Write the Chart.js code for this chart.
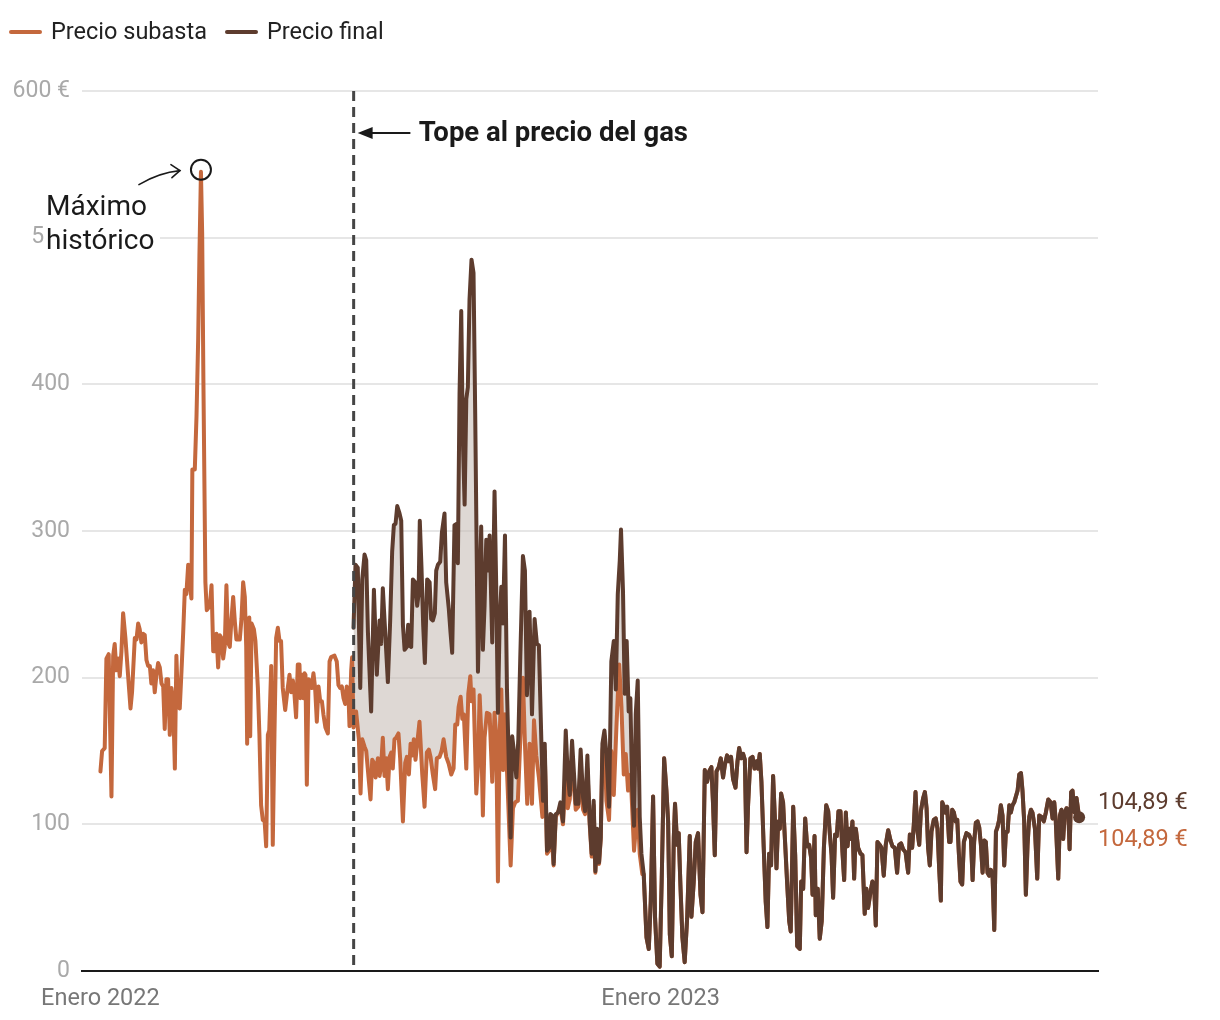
<!DOCTYPE html>
<html lang="es">
<head>
<meta charset="utf-8">
<title>Precio de la electricidad</title>
<script src="https://cdn.jsdelivr.net/npm/chart.js@4.4.1/dist/chart.umd.min.js"></script>
<style>
  html, body { margin: 0; padding: 0; background: #fff; }
  #wrap { width: 1220px; height: 1020px; }
</style>
</head>
<body>
<div id="wrap"><canvas id="grafico" width="1220" height="1020"></canvas></div>
<script>
// [día desde el 1 de enero de 2022, €/MWh]
const subastaAntes = [
  [0,136],[1.1,150],[2.8,152],[3.9,213],[5.4,216],[7.2,119],[8.3,215],[9.3,223],[10.4,205],[11.5,213],
  [12.6,201],[13.7,218],[14.8,244],[16.3,227],[18,202],[19.6,179],[20.6,190],[22.4,227],[23.5,226],[24.6,237],
  [25.6,233],[26.7,224],[27.8,230],[28.9,229],[30,212],[31.1,208],[32.2,208],[33.2,196],[34.3,205],[35.4,190],
  [36.5,202],[37.6,210],[38.7,207],[39.8,196],[40.9,194],[41.9,165],[43,199],[44.1,199],[45.2,161],[46.3,193],
  [47.4,183],[48.5,138],[49.5,215],[50.6,180],[51.7,179],[52.8,204],[53.9,230],[55,260],[56,257],[57.2,277],
  [58.2,265],[59.3,254],[59.9,342],[61.5,342],[62.6,378],[63.7,431],[64.5,487],[65.5,545],[66.3,503],[67.1,403],
  [68.4,265],[69.3,246],[71.3,249],[72.4,263],[73.5,218],[74.5,218],[75.6,230],[76.7,207],[77.8,229],[78.9,227],
  [80,213],[81,221],[82.1,263],[83.2,224],[84.3,221],[85.4,240],[86.5,255],[87.6,238],[88.6,226],[89.7,226],
  [90.8,226],[91.9,240],[93,265],[94.1,255],[95,221],[95.6,155],[97,241],[97.6,160],[98.5,237],[100,233],
  [101,225],[102.6,193],[103.6,161],[104.7,113],[105.8,103],[107,102],[108,85],[109.1,161],[110,164],[111.3,208],
  [112.3,86],[113.4,161],[114.5,227],[115.6,234],[116.7,225],[117.7,225],[118.8,193],[120.4,178],[121.7,190],[123.2,202],
  [124.3,190],[125.4,198],[126.4,189],[127.5,173],[128.6,209],[129.7,209],[130.3,186],[131.4,202],[132.3,186],[133,203],
  [133.6,202],[134.5,127],[135.6,199],[136.6,198],[137.7,193],[138.8,203],[139.9,193],[141,170],[142.1,194],[143.2,184],
  [144.3,184],[145.3,175],[146.6,166],[148.2,162],[149.3,211],[150.3,214],[152.5,215],[154,211],[155.1,195],[156.2,193],
  [157.3,194],[158.4,186],[159.5,182],[160.5,194],[161.6,189],[162.3,167],[163.4,205],[164,214]
];

const subastaTope = [
  [164.9,166],[166.6,177],[168.4,158],[169.5,121],[170.6,158],[172.1,153],[173.2,150],[174.7,132],[176,117],[177.1,144],
  [178.2,142],[179.3,132],[180.8,145],[181.9,133],[182.9,140],[184,159],[185.1,133],[186.2,145],[187.3,124],[188.4,146],
  [189.5,149],[190.5,138],[191.6,158],[192.7,159],[194.2,162],[195.3,145],[197.1,102],[198.6,142],[199.7,146],[201,134],
  [202.1,155],[203.2,147],[204.2,158],[205.3,144],[206.4,155],[207.9,170],[209.7,134],[211.2,112],[212.7,149],[214,151],
  [215.1,146],[216.6,134],[218.1,124],[219.2,145],[221,146],[222.3,150],[223.6,158],[225.3,146],[227,141],[228.6,134],
  [230.1,138],[231.2,168],[232.5,168],[233.4,180],[234.7,187],[235.8,172],[236.8,175],[238.4,138],[239.7,189],[241,201],
  [241.8,184],[243.1,192],[244.9,121],[246,140],[247.1,188],[248.1,163],[249.2,106],[250.3,159],[251.8,176],[253.6,175],
  [255.3,129],[256.8,176],[257.9,160],[259,61],[260.1,160],[261.2,192],[262.3,137],[263.6,175],[264.9,137],[267.3,72],
  [268.8,111],[270.3,115],[272,116],[273.6,158],[275.3,200],[276.6,155],[278.1,114],[279.6,155],[281.2,114],[282.5,171],
  [284,147],[285.7,132],[288,105],[289.5,150],[291,80],[292.3,82],[293.2,104],[295.3,72],[296.7,105],[299.7,112],
  [301.4,100],[303.2,134],[304.5,111],[305.8,117],[307.3,145],[308.6,125],[309.7,110],[311.4,112],[312.9,140],[314.5,110],
  [315.8,107],[317.3,138],[318.8,100],[320.1,78],[321.4,113],[322.5,67],[323.6,95],[324.9,73],[326,90],[327.1,150],
  [328.4,160],[329.7,116],[331.4,103],[332.9,150],[334.5,120],[336.2,166],[338,209],[339.5,180],[341,134],[342.3,148],
  [343.8,123],[345.5,134],[347.7,82],[349.2,102],[350.1,110],[351.4,80],[353.1,66]
];

const precioFinal = [
  [164.9,234],[166.2,277],[167.7,275],[169.3,193],[170.6,267],[172.1,284],[173.2,280],[174.3,231],[176.4,177],[178.2,260],
  [180.1,202],[181.9,239],[182.9,223],[184,261],[185.3,236],[187.3,197],[188.8,239],[190.1,286],[191.2,304],[192.3,305],
  [193.4,317],[194.9,312],[196,307],[197.1,236],[198.2,219],[199.7,221],[200.5,236],[201.4,222],[202.5,221],[203.6,267],
  [205.1,265],[206.4,249],[207.3,257],[208.1,307],[209.2,275],[210.3,236],[211.4,210],[212.9,267],[214.5,265],[215.5,240],
  [216.6,239],[217.9,244],[218.8,273],[219.9,277],[221.4,279],[222.5,299],[224.2,312],[225.3,265],[227,247],[228.1,231],
  [229.2,217],[230.7,304],[232.3,305],[232.9,278],[234,394],[235.1,450],[236.2,361],[237.3,318],[238.4,390],[239.4,398],
  [240.5,458],[241.8,485],[243.1,476],[244.2,380],[246,204],[248.1,303],[249.2,219],[250.3,249],[251.4,294],[252.5,273],
  [253.6,297],[255.3,224],[256.8,327],[257.9,262],[259,176],[260.1,236],[261.2,262],[262.3,237],[263.6,297],[264.9,192],
  [266.2,137],[267.3,91],[268.3,160],[269.4,150],[271,132],[272.3,158],[273.6,215],[275.3,283],[276.6,273],[277.9,188],
  [279.6,245],[281.2,175],[282.9,240],[284.4,223],[285.7,222],[287.3,157],[288.4,116],[289.5,155],[291,82],[292.3,84],
  [293.2,107],[294.3,106],[295.3,73],[296.7,107],[298.2,108],[299.7,115],[301.4,102],[303.2,164],[304.5,134],[305.8,120],
  [307.3,157],[308.6,134],[309.7,114],[311.4,114],[312.9,151],[314.5,118],[315.8,109],[317.3,147],[318.8,102],[320.1,80],
  [321.4,116],[322.5,68],[323.6,97],[324.9,74],[326,91],[327.1,155],[328.4,164],[329.7,148],[331.4,112],[332.9,211],
  [334.5,225],[335.8,192],[337.1,257],[338.4,280],[339.2,301],[340.5,259],[341.6,189],[342.9,225],[344.2,177],[345.3,186],
  [346.4,127],[347.7,99],[348.8,175],[350.1,198],[351.4,105],[352.5,80],[354,66],[355.8,23],[357.3,15],[358.6,48],
  [360.1,119],[361.4,36],[362.9,5],[364.4,3],[365.7,61],[367.3,145],[368.8,123],[369.9,102],[371,25],[372.3,10],
  [373.6,91],[374.4,114],[375.8,86],[376.8,94],[377.9,59],[379.2,23],[380.7,6],[382.3,36],[384,92],[385.1,37],
  [386.6,61],[387.9,88],[389.4,94],[391,52],[392.3,40],[393.8,137],[395.3,129],[396.6,136],[398.1,139],[399.2,113],
  [400.3,79],[401.4,136],[402.9,139],[404.2,145],[405.7,132],[406.8,140],[408.3,147],[409.6,143],[410.9,146],[412.2,131],
  [413.8,125],[415.1,143],[416.2,152],[417.5,145],[418.8,148],[419.9,144],[421,81],[422,113],[423.5,145],[424.9,146],
  [426.2,138],[427.5,143],[428.5,138],[429.6,148],[430.7,129],[432.2,84],[433.5,47],[434.6,30],[435.7,80],[437,72],
  [438.3,133],[439.4,106],[440.5,70],[441.6,102],[442.7,97],[443.5,121],[444.8,115],[446.1,88],[447.5,59],[448.8,34],
  [449.8,27],[451.4,112],[452.7,79],[454,17],[455.7,15],[456.6,61],[457.9,56],[459.2,104],[460.5,85],[461.8,86],
  [463.1,77],[464,52],[465.3,92],[466.1,38],[467.4,56],[468.7,22],[470,34],[471.4,84],[472.9,113],[474.2,109],
  [475.3,93],[476.4,79],[477.4,50],[478.7,93],[479.8,92],[480.9,109],[482.2,109],[483.5,81],[484.6,62],[485.7,108],
  [486.8,85],[487.9,97],[489,90],[490,102],[491.1,63],[492.2,97],[493.7,84],[495.3,80],[496.5,79],[498,39],
  [499.1,56],[500.2,43],[501.8,54],[503,61],[504.1,59],[505.2,31],[506.3,88],[507.8,86],[508.9,84],[510.4,65],
  [511.7,86],[513.3,96],[514.8,89],[516.1,85],[517.6,84],[519.1,67],[520.4,86],[521.7,87],[523,83],[524.6,81],
  [526.3,67],[527.4,93],[528.9,84],[530,100],[531.1,122],[532.2,97],[533.5,86],[534.6,109],[536.1,118],[537.2,122],
  [538.3,111],[539.3,84],[540.4,72],[541.5,95],[543,103],[544.3,104],[545.4,97],[546.5,70],[547.6,48],[548.5,115],
  [549.6,112],[550.6,108],[551.7,112],[553,88],[553.9,88],[555,110],[556.1,108],[557.2,102],[558.3,103],[559.3,81],
  [560.4,61],[561.5,59],[562.6,88],[564.3,94],[565.9,93],[567.2,90],[568.3,62],[569.3,88],[570.4,101],[571.5,102],
  [572.6,98],[573.7,86],[574.8,67],[575.9,89],[576.9,88],[578,67],[579.1,65],[580.2,69],[581.3,65],[582.4,28],
  [583.5,95],[584.5,98],[585.6,103],[586.7,113],[587.8,106],[588.9,72],[590,95],[591.1,95],[592.2,113],[593.2,108],
  [594.3,113],[595.4,115],[596.5,119],[597.6,123],[598.7,134],[599.8,135],[600.8,123],[601.9,102],[603,52],[604.1,86],
  [605.2,105],[606.3,110],[607.3,108],[608.9,97],[610.4,63],[611.7,106],[613.2,105],[614.7,102],[616,108],[617.6,117],
  [619.1,115],[620.4,104],[621.5,115],[622.5,102],[624.1,63],[625.2,106],[626.2,110],[627.3,90],[628.4,108],[629.5,111],
  [630.6,110],[631.5,83],[632.5,122],[633.4,123],[634.7,108],[636,118],[637.7,104.89]
];

const diaTope = 165;
const ticksX = [0, 365];
const etiquetasX = ['Enero 2022', 'Enero 2023'];
const ticksY = [0, 100, 200, 300, 400, 500, 600];

const colorSubasta = '#c4683d';
const colorFinal = '#5d3c2e';
const fuente = 'Roboto, "Noto Sans", sans-serif';

// desde que se igualan, la subasta sigue la misma curva que el precio final
const ultimoSubasta = subastaTope[subastaTope.length - 1][0];
const subasta = subastaAntes.concat(subastaTope, precioFinal.filter(p => p[0] > ultimoSubasta));

const aPuntos = arr => arr.map(p => ({ x: p[0], y: p[1] }));
const euros = v => v.toFixed(2).replace('.', ',') + ' €';

const extras = {
  id: 'extras',
  afterDatasetsDraw(chart) {
    const { ctx, scales: { x, y } } = chart;
    const px = x.getPixelForValue(diaTope);
    ctx.save();
    ctx.strokeStyle = '#454545';
    ctx.lineWidth = 3;
    ctx.setLineDash([10, 6]);
    ctx.beginPath();
    ctx.moveTo(px, y.getPixelForValue(600));
    ctx.lineTo(px, y.getPixelForValue(0));
    ctx.stroke();
    ctx.restore();
  },
  afterDraw(chart) {
    const { ctx, scales: { x, y } } = chart;
    ctx.save();

    // leyenda
    ctx.lineCap = 'round';
    ctx.lineWidth = 4;
    ctx.font = '23.5px ' + fuente;
    ctx.textBaseline = 'middle';
    ctx.fillStyle = '#222';
    [[colorSubasta, 'Precio subasta', 11], [colorFinal, 'Precio final', 227]].forEach(([c, t, x0]) => {
      ctx.strokeStyle = c;
      ctx.beginPath();
      ctx.moveTo(x0, 32);
      ctx.lineTo(x0 + 29, 32);
      ctx.stroke();
      ctx.fillText(t, x0 + 40, 33);
    });

    // tope al gas
    const px = x.getPixelForValue(diaTope);
    const ay = 133;
    ctx.strokeStyle = '#1a1a1a';
    ctx.fillStyle = '#1a1a1a';
    ctx.lineWidth = 2;
    ctx.beginPath();
    ctx.moveTo(px + 14, ay);
    ctx.lineTo(px + 56, ay);
    ctx.stroke();
    ctx.beginPath();
    ctx.moveTo(px + 4, ay);
    ctx.lineTo(px + 19, ay - 6);
    ctx.lineTo(px + 19, ay + 6);
    ctx.closePath();
    ctx.fill();
    ctx.font = 'bold 27.5px ' + fuente;
    ctx.fillText('Tope al precio del gas', px + 65, ay + 1);

    // máximo histórico
    const pico = subasta.reduce((a, b) => (b[1] > a[1] ? b : a));
    const cx = x.getPixelForValue(pico[0]);
    const cy = y.getPixelForValue(pico[1]) - 2;
    ctx.lineWidth = 2;
    ctx.beginPath();
    ctx.arc(cx, cy, 10, 0, Math.PI * 2);
    ctx.stroke();
    ctx.lineWidth = 1.6;
    ctx.beginPath();
    ctx.moveTo(cx - 62, cy + 15);
    ctx.quadraticCurveTo(cx - 42, cy + 3, cx - 21, cy + 1);
    ctx.stroke();
    ctx.beginPath();
    ctx.moveTo(cx - 30, cy - 5);
    ctx.lineTo(cx - 21, cy + 1);
    ctx.lineTo(cx - 29, cy + 8);
    ctx.stroke();

    ctx.fillStyle = '#fff';
    ctx.fillRect(44, 190, 116, 68);
    ctx.fillStyle = '#1a1a1a';
    ctx.font = '28px ' + fuente;
    ctx.textBaseline = 'middle';
    ctx.fillText('Máximo', 46, 208);
    ctx.fillText('histórico', 46, 242);

    // valores finales
    const fin = precioFinal[precioFinal.length - 1];
    const finSub = subasta[subasta.length - 1];
    ctx.font = '23.5px ' + fuente;
    ctx.fillStyle = colorFinal;
    ctx.fillText(euros(fin[1]), 1098, 803);
    ctx.fillStyle = colorSubasta;
    ctx.fillText(euros(finSub[1]), 1098, 840);

    ctx.restore();
  }
};

new Chart(document.getElementById('grafico'), {
  type: 'line',
  data: {
    datasets: [
      {
        label: 'Precio subasta',
        data: aPuntos(subasta),
        borderColor: colorSubasta,
        borderWidth: 4,
        borderJoinStyle: 'round',
        borderCapStyle: 'round',
        pointRadius: 0,
        tension: 0,
        fill: false,
        order: 1
      },
      {
        label: 'Precio final',
        data: aPuntos(precioFinal),
        borderColor: colorFinal,
        backgroundColor: colorFinal,
        borderWidth: 4,
        borderJoinStyle: 'round',
        borderCapStyle: 'round',
        pointRadius: c => (c.dataIndex === precioFinal.length - 1 ? 6 : 0),
        pointBorderWidth: 0,
        tension: 0,
        fill: { target: 0, above: 'rgba(200,190,184,0.6)', below: 'rgba(0,0,0,0)' },
        order: 0
      }
    ]
  },
  options: {
    responsive: false,
    animation: false,
    layout: { padding: { top: 91, right: 122, left: 0, bottom: 0 } },
    plugins: {
      legend: { display: false },
      tooltip: { enabled: false },
      filler: { drawTime: 'beforeDatasetsDraw' }
    },
    scales: {
      x: {
        type: 'linear',
        min: -12,
        max: 650,
        afterFit: s => { s.height = 49; },
        afterBuildTicks: s => { s.ticks = ticksX.map(v => ({ value: v })); },
        grid: { display: false },
        border: { display: true, color: '#1a1a1a', width: 2 },
        ticks: {
          autoSkip: false,
          maxRotation: 0,
          padding: 6,
          color: '#777',
          font: { family: fuente, size: 23.5 },
          callback: (v, i) => etiquetasX[i]
        }
      },
      y: {
        min: 0,
        max: 600,
        afterFit: s => { s.width = 82; },
        afterBuildTicks: s => { s.ticks = ticksY.map(v => ({ value: v })); },
        border: { display: false },
        grid: {
          drawTicks: false,
          lineWidth: 2,
          color: c => (c.tick && c.tick.value === 0 ? 'rgba(0,0,0,0)' : '#e6e6e6')
        },
        ticks: {
          padding: 12,
          color: '#a9a9a9',
          font: { family: fuente, size: 23 },
          callback: v => (v === 600 ? '600 €' : v)
        }
      }
    }
  },
  plugins: [extras]
});
</script>
</body>
</html>
